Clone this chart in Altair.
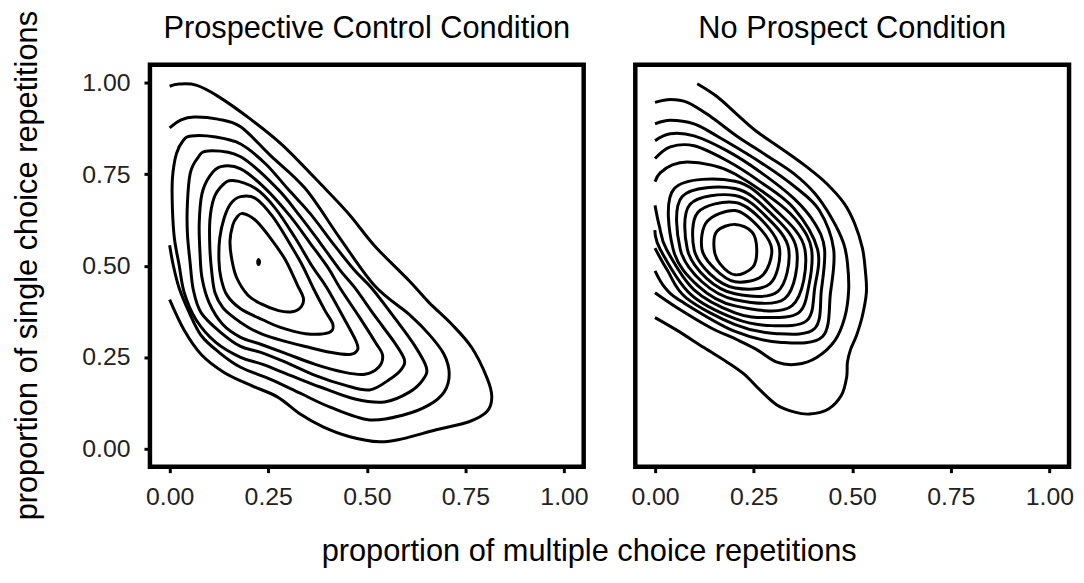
import altair as alt
import pandas as pd

# ---------------- values ----------------
PANELS = ["Prospective Control Condition", "No Prospect Condition"]
TICKS = [0.0, 0.25, 0.5, 0.75, 1.0]
X_TITLE = "proportion of multiple choice repetitions"
Y_TITLE = "proportion of single choice repetitions"

# Prospective Control Condition: density contour lines (outer -> inner)
PC1_X = [0.000, 0.024, 0.067, 0.122, 0.205, 0.288, 0.394, 0.457, 0.520, 0.608, 0.658, 0.716, 0.766, 0.804, 0.817,
         0.804, 0.759, 0.676, 0.590, 0.532, 0.457, 0.389, 0.331, 0.273, 0.205, 0.138, 0.080, 0.037, 0.000]
PC1_Y = [0.991, 0.997, 0.994, 0.964, 0.901, 0.828, 0.711, 0.638, 0.554, 0.458, 0.399, 0.339, 0.276, 0.195, 0.141,
         0.100, 0.073, 0.051, 0.026, 0.018, 0.032, 0.059, 0.094, 0.141, 0.173, 0.208, 0.257, 0.323, 0.407]
PC2_X = [0.000, 0.029, 0.062, 0.122, 0.180, 0.256, 0.344, 0.432, 0.520, 0.608, 0.658, 0.696, 0.709, 0.696, 0.658,
         0.595, 0.507, 0.407, 0.331, 0.256, 0.180, 0.125, 0.080, 0.050, 0.024, 0.009, 0.000]
PC2_Y = [0.877, 0.899, 0.907, 0.901, 0.880, 0.801, 0.711, 0.575, 0.445, 0.366, 0.312, 0.257, 0.203, 0.154, 0.119,
         0.092, 0.078, 0.113, 0.151, 0.189, 0.222, 0.263, 0.309, 0.371, 0.439, 0.502, 0.556]
PC3_X = [0.055, 0.117, 0.180, 0.243, 0.299, 0.356, 0.419, 0.470, 0.512, 0.570, 0.621, 0.651, 0.643, 0.608, 0.545,
         0.470, 0.382, 0.306, 0.236, 0.180, 0.117, 0.067, 0.037, 0.024, 0.012, 0.007, 0.007, 0.017, 0.034]
PC3_Y = [0.855, 0.852, 0.833, 0.779, 0.711, 0.643, 0.554, 0.486, 0.439, 0.358, 0.282, 0.222, 0.189, 0.154, 0.127,
         0.135, 0.168, 0.200, 0.230, 0.249, 0.290, 0.352, 0.426, 0.502, 0.575, 0.657, 0.738, 0.806, 0.842]
PC4_X = [0.097, 0.180, 0.273, 0.331, 0.382, 0.432, 0.470, 0.520, 0.570, 0.595, 0.588, 0.558, 0.507, 0.444, 0.369,
         0.294, 0.231, 0.180, 0.130, 0.080, 0.060, 0.052, 0.045, 0.045, 0.052, 0.070]
PC4_Y = [0.814, 0.798, 0.711, 0.635, 0.562, 0.488, 0.439, 0.363, 0.290, 0.244, 0.217, 0.189, 0.160, 0.173, 0.200,
         0.236, 0.263, 0.279, 0.317, 0.371, 0.434, 0.507, 0.589, 0.670, 0.752, 0.793]
PC5_X = [0.130, 0.180, 0.243, 0.306, 0.356, 0.402, 0.432, 0.482, 0.522, 0.540, 0.530, 0.495, 0.444, 0.369, 0.294,
         0.231, 0.180, 0.135, 0.100, 0.082, 0.077, 0.075, 0.082, 0.102]
PC5_Y = [0.771, 0.765, 0.711, 0.635, 0.562, 0.494, 0.439, 0.358, 0.290, 0.255, 0.222, 0.203, 0.208, 0.230, 0.260,
         0.285, 0.304, 0.339, 0.399, 0.467, 0.534, 0.616, 0.697, 0.746]
PC6_X = [0.160, 0.218, 0.268, 0.319, 0.361, 0.399, 0.444, 0.472, 0.477, 0.457, 0.407, 0.344, 0.286, 0.236, 0.200,
         0.163, 0.135, 0.115, 0.107, 0.102, 0.102, 0.112, 0.133]
PC6_Y = [0.733, 0.711, 0.657, 0.575, 0.499, 0.439, 0.352, 0.295, 0.271, 0.257, 0.263, 0.279, 0.295, 0.312, 0.331,
         0.358, 0.385, 0.426, 0.480, 0.548, 0.624, 0.684, 0.719]
PC7_X = [0.180, 0.218, 0.261, 0.301, 0.336, 0.364, 0.394, 0.414, 0.404, 0.344, 0.281, 0.236, 0.180, 0.145, 0.130,
         0.125, 0.127, 0.138, 0.155]
PC7_Y = [0.689, 0.684, 0.635, 0.567, 0.502, 0.439, 0.377, 0.339, 0.317, 0.314, 0.331, 0.352, 0.382, 0.420, 0.467,
         0.515, 0.575, 0.630, 0.670]
PC8_X = [0.185, 0.218, 0.256, 0.294, 0.324, 0.339, 0.334, 0.311, 0.276, 0.231, 0.198, 0.170, 0.158, 0.153, 0.160, 0.170]
PC8_Y = [0.643, 0.624, 0.575, 0.515, 0.447, 0.412, 0.388, 0.374, 0.377, 0.396, 0.420, 0.467, 0.515, 0.567, 0.611, 0.632]
PC9_X = [0.2256, 0.2276, 0.2276, 0.2256, 0.2236, 0.2236]
PC9_Y = [0.5168, 0.5130, 0.5070, 0.5032, 0.5070, 0.5130]

# No Prospect Condition: density contour lines (outer -> inner)
NP1_X = [0.107, 0.157, 0.207, 0.257, 0.321, 0.384, 0.435, 0.480, 0.506, 0.526, 0.534, 0.536, 0.526, 0.511, 0.496,
         0.488, 0.486, 0.473, 0.440, 0.392, 0.352, 0.309, 0.266, 0.226, 0.183, 0.124, 0.056, 0.000]
NP1_Y = [0.998, 0.963, 0.915, 0.868, 0.820, 0.771, 0.725, 0.670, 0.616, 0.548, 0.480, 0.426, 0.363, 0.309, 0.271,
         0.236, 0.195, 0.146, 0.108, 0.094, 0.100, 0.119, 0.160, 0.203, 0.236, 0.276, 0.323, 0.358]
NP2_X = [0.000, 0.039, 0.082, 0.140, 0.207, 0.284, 0.352, 0.405, 0.448, 0.478, 0.488, 0.491, 0.481, 0.456, 0.410,
         0.359, 0.309, 0.257, 0.207, 0.140, 0.056, 0.000]
NP2_Y = [0.947, 0.955, 0.947, 0.909, 0.855, 0.801, 0.752, 0.698, 0.630, 0.562, 0.507, 0.431, 0.358, 0.295, 0.249,
         0.230, 0.236, 0.271, 0.298, 0.331, 0.385, 0.426]
NP3_X = [0.000, 0.039, 0.099, 0.157, 0.266, 0.357, 0.417, 0.453, 0.445, 0.425, 0.321, 0.203, 0.069, 0.026, 0.000]
NP3_Y = [0.888, 0.898, 0.888, 0.855, 0.784, 0.714, 0.651, 0.545, 0.426, 0.306, 0.290, 0.320, 0.401, 0.439, 0.486]
NP4_X = [0.000, 0.039, 0.099, 0.183, 0.266, 0.352, 0.405, 0.430, 0.422, 0.405, 0.309, 0.203, 0.079, 0.031, 0.000]
NP4_Y = [0.842, 0.861, 0.855, 0.814, 0.757, 0.684, 0.616, 0.545, 0.434, 0.328, 0.314, 0.339, 0.412, 0.488, 0.548]
NP5_X = [0.000, 0.039, 0.099, 0.183, 0.266, 0.352, 0.412, 0.405, 0.385, 0.296, 0.203, 0.089, 0.013, 0.000]
NP5_Y = [0.793, 0.825, 0.828, 0.787, 0.730, 0.657, 0.545, 0.439, 0.350, 0.336, 0.355, 0.423, 0.545, 0.597]
NP6_X = [0.000, 0.013, 0.044, 0.082, 0.140, 0.203, 0.314, 0.367, 0.397, 0.390, 0.364, 0.284, 0.203, 0.099, 0.029,
         0.011, 0.000]
NP6_Y = [0.730, 0.754, 0.776, 0.784, 0.776, 0.751, 0.670, 0.613, 0.545, 0.445, 0.371, 0.358, 0.371, 0.434, 0.545,
         0.608, 0.665]
NP7_X = [0.203, 0.304, 0.380, 0.347, 0.203, 0.109, 0.046, 0.049]
NP7_Y = [0.731, 0.654, 0.545, 0.390, 0.390, 0.445, 0.545, 0.711]
NP8_X = [0.203, 0.294, 0.359, 0.329, 0.203, 0.119, 0.064, 0.069]
NP8_Y = [0.711, 0.643, 0.545, 0.410, 0.407, 0.456, 0.545, 0.689]
NP9_X = [0.203, 0.284, 0.339, 0.311, 0.203, 0.130, 0.082, 0.089]
NP9_Y = [0.692, 0.632, 0.545, 0.429, 0.423, 0.466, 0.545, 0.668]
NP10_X = [0.203, 0.274, 0.316, 0.291, 0.203, 0.140, 0.099, 0.109]
NP10_Y = [0.673, 0.621, 0.545, 0.450, 0.439, 0.477, 0.545, 0.646]
NP11_X = [0.203, 0.261, 0.296, 0.271, 0.203, 0.152, 0.119, 0.132]
NP11_Y = [0.651, 0.608, 0.545, 0.472, 0.456, 0.491, 0.545, 0.621]
NP12_X = [0.203, 0.246, 0.258, 0.248, 0.203, 0.165, 0.150, 0.157]
NP12_Y = [0.613, 0.592, 0.545, 0.496, 0.475, 0.505, 0.545, 0.594]

# (x, y, closed?) per contour
PC_LINES = [(PC1_X, PC1_Y, 0), (PC2_X, PC2_Y, 0), (PC3_X, PC3_Y, 1), (PC4_X, PC4_Y, 1), (PC5_X, PC5_Y, 1),
            (PC6_X, PC6_Y, 1), (PC7_X, PC7_Y, 1), (PC8_X, PC8_Y, 1), (PC9_X, PC9_Y, 1)]
NP_LINES = [(NP1_X, NP1_Y, 0), (NP2_X, NP2_Y, 0), (NP3_X, NP3_Y, 0), (NP4_X, NP4_Y, 0), (NP5_X, NP5_Y, 0),
            (NP6_X, NP6_Y, 0), (NP7_X, NP7_Y, 1), (NP8_X, NP8_Y, 1), (NP9_X, NP9_Y, 1), (NP10_X, NP10_Y, 1),
            (NP11_X, NP11_Y, 1), (NP12_X, NP12_Y, 1)]

rows = []
for panel, lines in ((PANELS[0], PC_LINES), (PANELS[1], NP_LINES)):
    for i, (xs, ys, closed) in enumerate(lines):
        for j, (xv, yv) in enumerate(zip(xs, ys)):
            rows.append({"panel": panel, "line": f"{panel}-{i}", "order": j,
                         "x": xv, "y": yv, "closed": closed})
df = pd.DataFrame(rows)

FONT = "Liberation Sans"
DOMAIN = [-0.05, 1.05]
W, H = 437, 405


def panel_chart(name, first):
    sub = df[df["panel"] == name]
    if first:
        x_axis = alt.Axis(values=TICKS, format=".2f", title=X_TITLE, titleX=442, titleY=86,
                          titleAlign="center", titleBaseline="middle")
        y_enc = alt.Y("y:Q", scale=alt.Scale(domain=DOMAIN, nice=False, zero=False),
                      axis=alt.Axis(values=TICKS, format=".2f", title=None))
    else:
        x_axis = alt.Axis(values=TICKS, format=".2f", title=None)
        y_enc = alt.Y("y:Q", scale=alt.Scale(domain=DOMAIN, nice=False, zero=False), axis=None)
    base = alt.Chart(sub).encode(
        x=alt.X("x:Q", scale=alt.Scale(domain=DOMAIN, nice=False, zero=False), axis=x_axis),
        y=y_enc,
        detail="line:N",
        order="order:Q",
    )
    open_lines = base.transform_filter("datum.closed == 0").mark_line(
        interpolate="cardinal", color="black", strokeWidth=3)
    closed_lines = base.transform_filter("datum.closed == 1").mark_line(
        interpolate="cardinal-closed", color="black", strokeWidth=3)
    return alt.layer(open_lines, closed_lines).properties(
        width=W, height=H,
        title=alt.TitleParams(name, fontSize=31, font=FONT, fontWeight="normal", color="black",
                              anchor="middle", baseline="alphabetic", offset=-4, frame="group"),
    )


chart = alt.hconcat(panel_chart(PANELS[0], True), panel_chart(PANELS[1], False),
                    spacing=52, bounds="flush").properties(
    padding={"left": 4, "top": 0, "right": 0, "bottom": 0},
    title=alt.TitleParams(Y_TITLE, orient="left", anchor="middle", frame="group", fontSize=31,
                          font=FONT, fontWeight="normal", color="black", offset=36),
).configure_view(
    stroke="black", strokeWidth=4.5
).configure_axis(
    domain=False, grid=False, ticks=True, tickColor="black", tickWidth=3, tickSize=6,
    labelFont=FONT, labelFontSize=25, labelColor="#222222",
    titleFont=FONT, titleFontSize=31, titleFontWeight="normal", titleColor="black",
).configure_axisX(labelPadding=12).configure_axisY(labelPadding=14)

chart.save("out.html", embed_options={"renderer": "svg", "actions": False})
